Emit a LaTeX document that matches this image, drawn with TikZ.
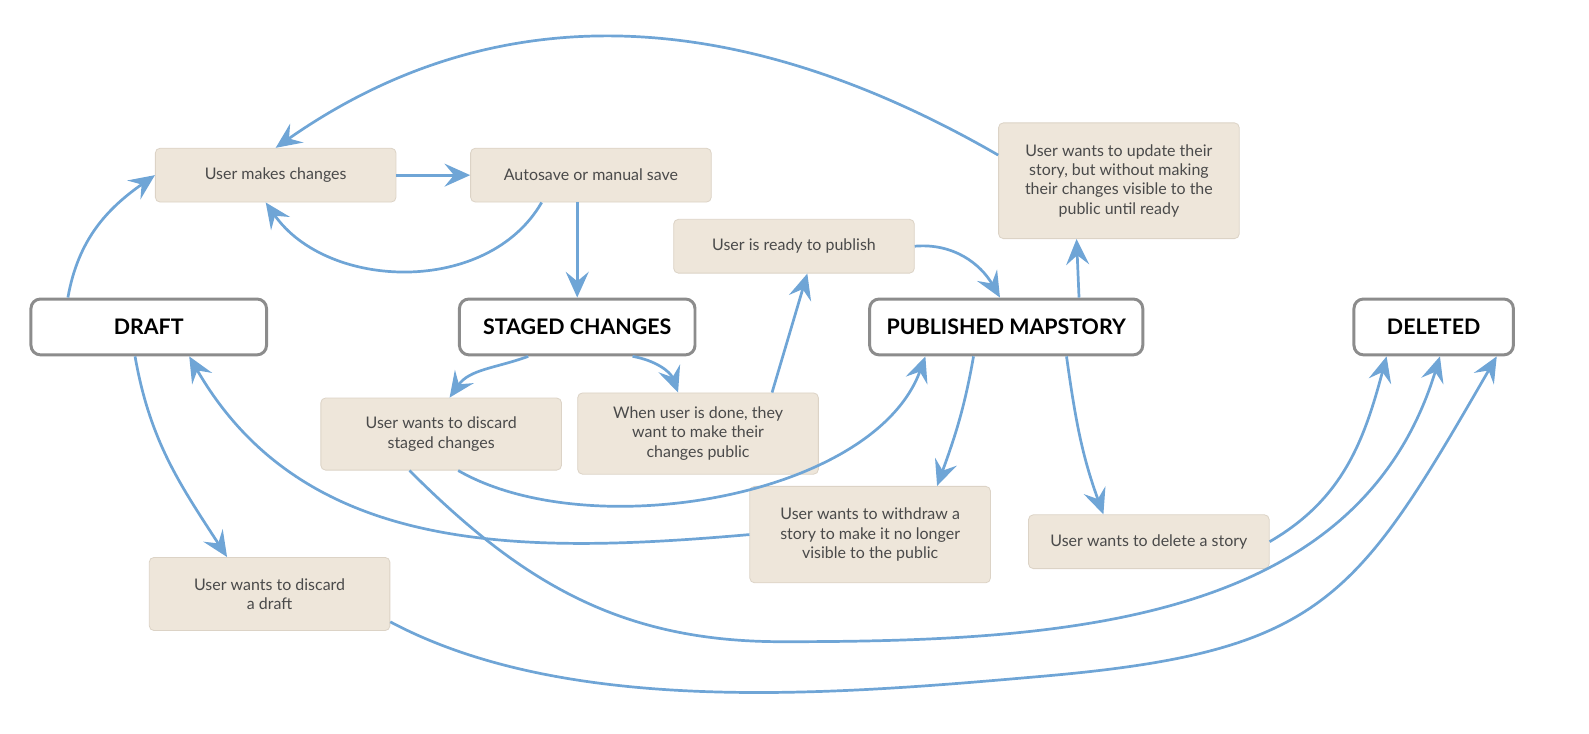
\documentclass[tikz,border=0pt]{standalone}
\usepackage{fontspec}
\setmainfont{Lato}
\usetikzlibrary{arrows.meta}
\definecolor{flowblue}{HTML}{6FA5D6}
\definecolor{boxfill}{HTML}{EEE6DA}
\definecolor{boxedge}{HTML}{DCD3C6}
\definecolor{stateedge}{HTML}{8C8C8C}
\definecolor{textgray}{HTML}{4A4A4A}

\begin{document}
\begin{tikzpicture}[x=0.75pt, y=0.75pt,
	state/.style={draw=stateedge, line width=2.2pt, rounded corners=7pt, fill=white,
		minimum width=174pt, minimum height=41.25pt, text=black,
		font=\fontsize{15.8}{18}\selectfont\bfseries},
	action/.style={draw=boxedge, line width=0.6pt, fill=boxfill, rounded corners=3.5pt,
		minimum width=177.75pt, minimum height=39.75pt, align=center, text=textgray,
		font=\fontsize{11.8}{14.25}\selectfont},
	flow/.style={flowblue, line width=2pt, -{Stealth[length=19pt,width=17pt,inset=7pt]}}]
				\useasboundingbox (0,0) rectangle (1565,-722);
				
				% States
				\node[state] (draft) at (146.5,-322) {DRAFT};
				\node[state] (staged) at (568.5,-322) {STAGED CHANGES};
				\node[state, minimum width=201.75pt] (published) at (991,-322) {PUBLISHED MAPSTORY};
				\node[state, minimum width=117.75pt] (deleted) at (1412,-322) {DELETED};
				
				% Actions
				\node[action] (makes) at (271.5,-172.5) {User makes changes};
				\node[action] (save) at (582,-172.5) {Autosave or manual save};
				\node[action] (ready) at (782,-242.5) {User is ready to publish};
				\node[action, minimum height=85.5pt] (update) at (1102,-178) {User wants to update their\\story, but without making\\their changes visible to the\\public until ready};
				\node[action, minimum height=53.25pt] (discardstaged) at (434.5,-427.5) {User wants to discard\\staged changes};
				\node[action, minimum height=60pt] (done) at (687.5,-427) {When user is done, they\\want to make their\\changes public};
				\node[action, minimum height=71.25pt] (withdraw) at (857,-526.5) {User wants to withdraw a\\story to make it no longer\\visible to the public};
				\node[action] (delstory) at (1131.5,-533.5) {User wants to delete a story};
				\node[action, minimum height=54pt] (discarddraft) at (265.5,-585) {User wants to discard\\a draft};
				
				% Low points of the long arcs
				\coordinate (lowstaged) at (770,-632);
				\coordinate (lowdraft) at (1027,-666);
				
				% Editing loop
				\draw[flow] (draft.160) to[out=80, in=215] (makes.west);
				\draw[flow] (makes.east) -- (save.west);
				\draw[flow] (save.209) to[out=240, in=-55] (makes.250);
				\draw[flow] (save.south -| staged.north) -- (staged.north);
				\draw[flow] (update.168) to[out=150, in=35] (makes.north);
				
				% Staged changes
				\draw[flow] (staged.211) to[out=200, in=55] (discardstaged.77);
				\draw[flow] (staged.332) to[out=-10, in=110] (done.116);
				\draw[flow] (done.29) -- (ready.296);
				\draw[flow] (ready.east) to[out=5, in=120] (published.102);
				\draw[flow] (discardstaged.295) to[out=-30, in=250, looseness=0.8] (published.200);
				
				% Published
				\draw[flow] (published.22) -- (update.234);
				\draw[flow] (published.222) to[out=260, in=70] (withdraw.36);
				\draw[flow] (withdraw.west) to[out=185, in=-60] (draft.324);
				\draw[flow] (published.334) to[out=-82, in=110] (delstory.149);
				
				% Deleting
				\draw[flow] (draft.245) to[out=-80, in=123] (discarddraft.139);
				\draw[flow] (delstory.east) to[out=30, in=255] (deleted.212);
				\draw[flow] (discardstaged.229) to[out=-45, in=180] (lowstaged)
					to[out=0, in=253] (deleted.282);
				\draw[flow] (discarddraft.347) to[out=-28, in=185, looseness=0.8] (lowdraft)
					to[out=5, in=240, looseness=1.3] (deleted.335);
			\end{tikzpicture}
\end{document}
